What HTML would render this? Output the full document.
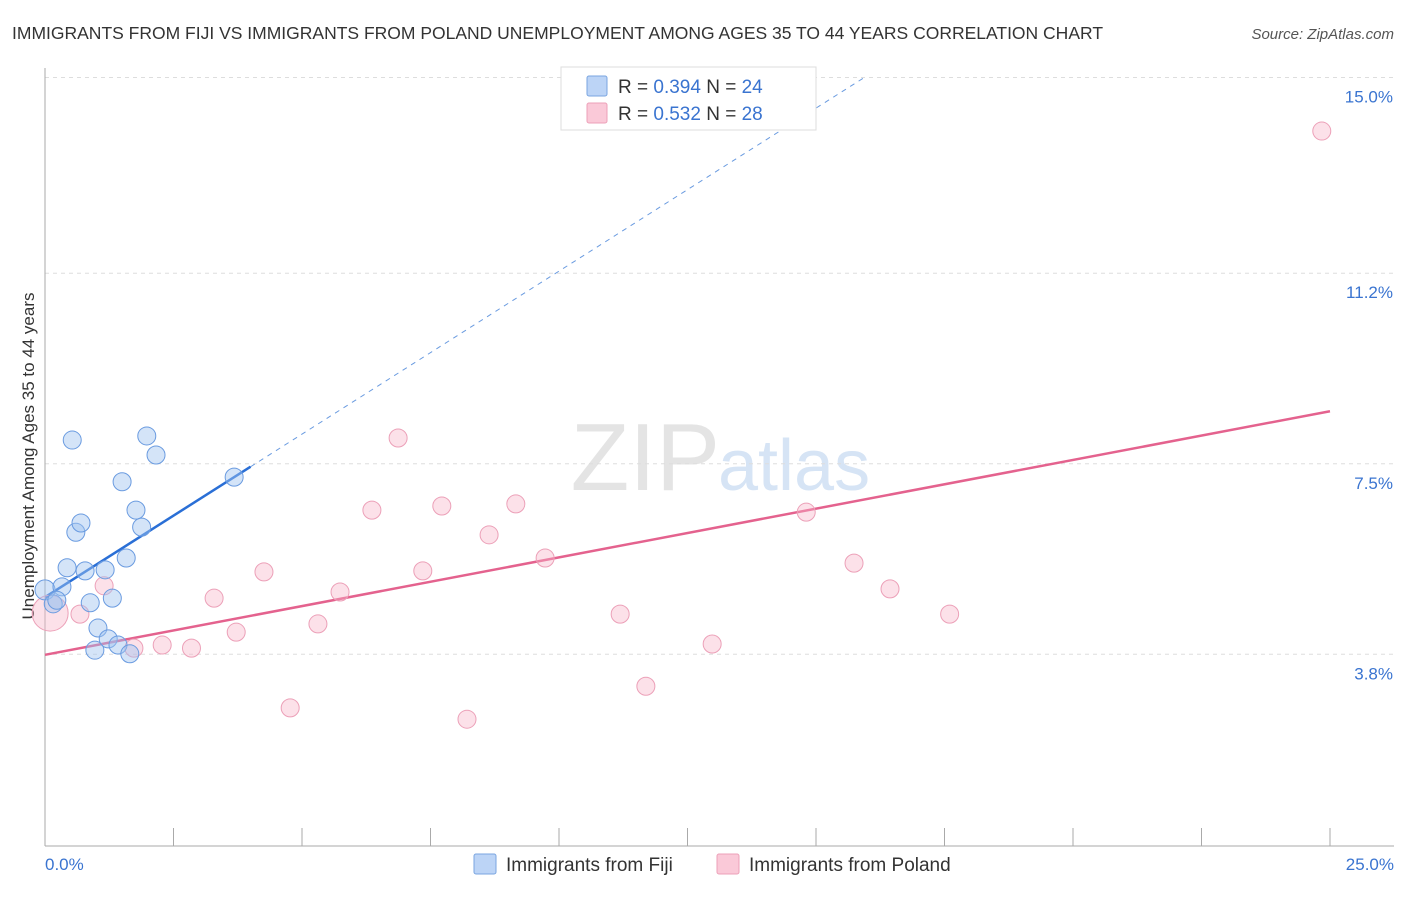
<!DOCTYPE html>
<html><head><meta charset="utf-8"><style>
body{margin:0;background:#fff;font-family:"Liberation Sans",sans-serif;}
svg text{font-family:"Liberation Sans",sans-serif;}
</style></head><body>
<svg id="chart" width="1406" height="892" xmlns="http://www.w3.org/2000/svg">
<text x="12" y="39" font-size="17.5" fill="#333">IMMIGRANTS FROM FIJI VS IMMIGRANTS FROM POLAND UNEMPLOYMENT AMONG AGES 35 TO 44 YEARS CORRELATION CHART</text>
<text x="1394" y="39" font-size="15" fill="#555" font-style="italic" text-anchor="end">Source: ZipAtlas.com</text>
<text x="720" y="490" font-size="96" fill="#e4e4e4" text-anchor="end" font-family="Liberation Serif">ZIP</text>
<text x="718" y="490" font-size="72" fill="#d6e4f5">atlas</text>
<g id="grid"></g>
<line x1="45" y1="68" x2="45" y2="846" stroke="#aaa"/>
<line x1="45" y1="846" x2="1394" y2="846" stroke="#aaa"/>
<text x="34" y="456" font-size="17" fill="#333" text-anchor="middle" transform="rotate(-90 34 456)">Unemployment Among Ages 35 to 44 years</text>
<text x="45" y="870" font-size="17" fill="#3a74d0">0.0%</text>
<text x="1394" y="870" font-size="17" fill="#3a74d0" text-anchor="end">25.0%</text>
<g id="lines"></g>
<g id="points"></g>
<g>
<rect x="561" y="67" width="255" height="63" fill="#fff" stroke="#ddd"/>
<rect x="587" y="76" width="20" height="20" fill="#bcd4f6" stroke="#7aa5e0" rx="2"/>
<rect x="587" y="103" width="20" height="20" fill="#fac9d8" stroke="#eca0b8" rx="2"/>
<text x="618" y="93" font-size="19" fill="#333">R = <tspan fill="#3a74d0">0.394</tspan>   N = <tspan fill="#3a74d0">24</tspan></text>
<text x="618" y="120" font-size="19" fill="#333">R = <tspan fill="#3a74d0">0.532</tspan>   N = <tspan fill="#3a74d0">28</tspan></text>
</g>
<g>
<rect x="474" y="854" width="22" height="20" fill="#bcd4f6" stroke="#7aa5e0" rx="2"/>
<text x="506" y="871" font-size="19" fill="#333">Immigrants from Fiji</text>
<rect x="717" y="854" width="22" height="20" fill="#fac9d8" stroke="#eca0b8" rx="2"/>
<text x="749" y="871" font-size="19" fill="#333">Immigrants from Poland</text>
</g>
</svg>
<script>
const yTicks=[15.0,11.2,7.5,3.8];
const yTickLabels=["15.0%","11.2%","7.5%","3.8%"];
const xTicks=[2.5,5,7.5,10,12.5,15,17.5,20,22.5,25];
const fijiX=[0,0.16,0.33,0.43,0.53,0.6,0.7,0.78,0.88,0.97,1.03,1.17,1.23,1.31,1.42,1.5,1.58,1.65,1.77,1.88,1.98,2.16,3.68,0.23];
const fijiY=[5.05,4.78,5.11,5.48,7.96,6.17,6.35,5.42,4.8,3.88,4.31,5.44,4.1,4.89,3.98,7.15,5.67,3.81,6.6,6.27,8.04,7.67,7.24,4.85];
const polX=[0.1,0.68,1.15,1.73,2.28,2.85,3.29,3.72,4.26,4.77,5.31,5.74,6.36,6.87,7.35,7.72,8.21,8.64,9.16,9.73,11.19,11.69,12.98,14.81,15.74,16.44,17.6,24.84];
const polY=[4.6,4.58,5.13,3.92,3.98,3.92,4.89,4.23,5.4,2.76,4.39,5.01,6.6,8.0,5.42,6.68,2.54,6.12,6.72,5.67,4.58,3.18,4.0,6.56,5.57,5.07,4.58,13.96];
const polSize=[18,9,9,9,9,9,9,9,9,9,9,9,9,9,9,9,9,9,9,9,9,9,9,9,9,9,9,9];
const fijiSize=[10,9,9,9,9,9,9,9,9,9,9,9,9,9,9,9,9,9,9,9,9,9,9,9];
const fijiTrend=[4.91,0.633];
const polTrend=[3.79,8.52];
const NS="http://www.w3.org/2000/svg";
const sx=v=>45+v*51.4, sy=v=>850-v*51.5;
function mk(tag,attrs,parent){const e=document.createElementNS(NS,tag);for(const k in attrs)e.setAttribute(k,attrs[k]);document.getElementById(parent).appendChild(e);return e;}
yTicks.forEach((t,i)=>{
 const l=mk('line',{x1:45,x2:1394,y1:sy(t),y2:sy(t),stroke:'#ddd','stroke-dasharray':'4,4'},'grid');
 
 
 const tx=mk('text',{x:1393,y:sy(t)+25,'font-size':17,fill:'#3a74d0','text-anchor':'end'},'grid');
 tx.textContent=yTickLabels[i];
 
 
});
xTicks.forEach(t=>{
 const l=mk('line',{x1:sx(t),x2:sx(t),y1:828,y2:846,stroke:'#aaa'},'grid');
 
 
});
// trend lines
const fx2=4.0, fxEnd=(15.0-fijiTrend[0])/fijiTrend[1];
const fd=mk('line',{x1:sx(fx2),y1:sy(fijiTrend[0]+fijiTrend[1]*fx2),x2:sx(fxEnd),y2:sy(15),stroke:'#6a9be0','stroke-width':1,'stroke-dasharray':'5,5'},'lines');


const fs=mk('line',{x1:sx(0),y1:sy(fijiTrend[0]),x2:sx(fx2),y2:sy(fijiTrend[0]+fijiTrend[1]*fx2),stroke:'#2a6fd6','stroke-width':2.5},'lines');


const ps=mk('line',{x1:sx(0),y1:sy(polTrend[0]),x2:sx(25),y2:sy(polTrend[1]),stroke:'#e4628e','stroke-width':2.5},'lines');


polX.forEach((x,i)=>{
 const c=mk('circle',{cx:sx(x),cy:sy(polY[i]),r:polSize[i],fill:'rgba(248,180,200,0.4)',stroke:'#eca0b8'},'points');
 
 
});
fijiX.forEach((x,i)=>{
 const c=mk('circle',{cx:sx(x),cy:sy(fijiY[i]),r:fijiSize[i],fill:'rgba(160,195,240,0.45)',stroke:'#6a9be0'},'points');
 
 
});
</script>
</body></html>
